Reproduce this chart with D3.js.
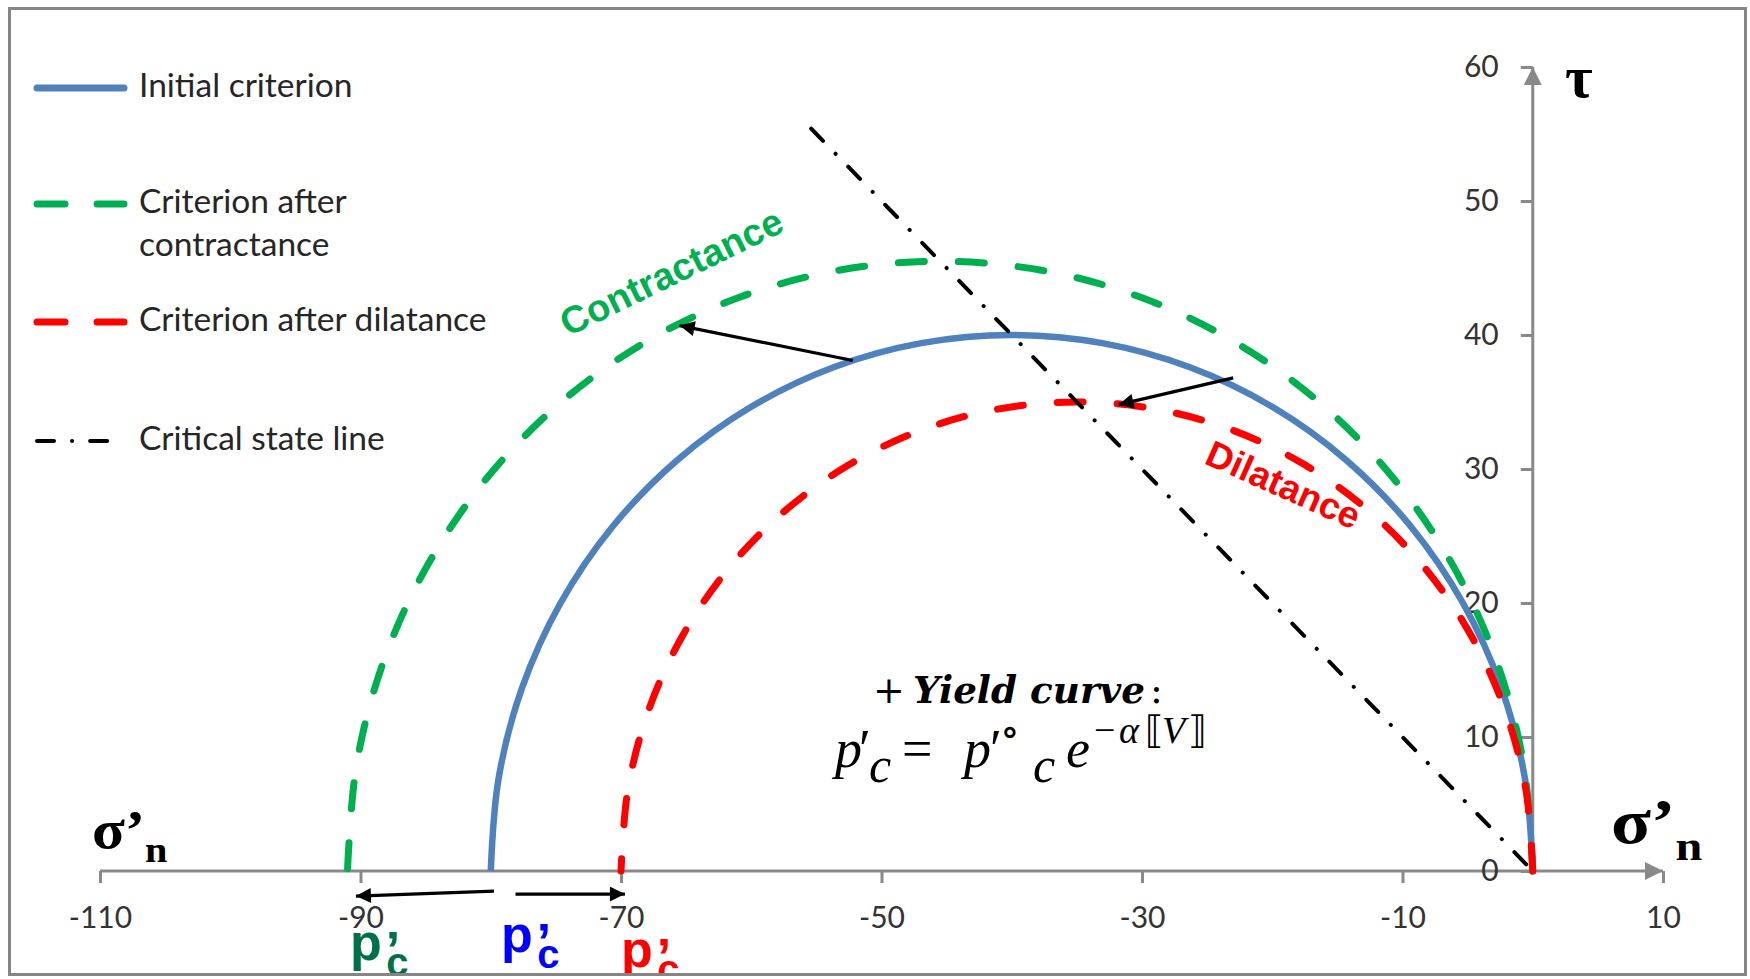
<!DOCTYPE html>
<html><head><meta charset="utf-8">
<script src="https://cdn.jsdelivr.net/npm/d3@7"></script>
<style>html,body{margin:0;padding:0;background:#fff;}svg{display:block;}</style>
</head><body>
<svg id="chart" width="1750" height="979"></svg>
<script>
// Axis ticks
const xTicks = [-110, -90, -70, -50, -30, -10, 10];
const yTicks = [0, 10, 20, 30, 40, 50, 60];

// Initial criterion (p'c = -80): points along the yield curve (σ'n, τ)
const initialSigma = [0, -0.61, -2.41, -5.36, -9.36, -14.29, -20.00, -26.32, -33.05, -40.00, -46.95, -53.68, -60.00, -65.71, -70.64, -74.64, -77.59, -79.39, -80.00];
const initialTau   = [0, 6.95, 13.68, 20.00, 25.71, 30.64, 34.64, 37.59, 39.39, 40.00, 39.39, 37.59, 34.64, 30.64, 25.71, 20.00, 13.68, 6.95, 0];

// Criterion after contractance (p'c = -91)
const contractSigma = [0, -0.69, -2.74, -6.10, -10.65, -16.25, -22.75, -29.94, -37.60, -45.50, -53.40, -61.06, -68.25, -74.75, -80.36, -84.90, -88.26, -90.31, -91.00];
const contractTau   = [0, 7.90, 15.56, 22.75, 29.25, 34.86, 39.40, 42.76, 44.81, 45.50, 44.81, 42.76, 39.40, 34.86, 29.25, 22.75, 15.56, 7.90, 0];

// Criterion after dilatance (p'c = -70)
const dilatSigma = [0, -0.53, -2.11, -4.69, -8.19, -12.50, -17.50, -23.03, -28.92, -35.00, -41.08, -46.97, -52.50, -57.50, -61.81, -65.31, -67.89, -69.47, -70.00];
const dilatTau   = [0, 6.08, 11.97, 17.50, 22.50, 26.81, 30.31, 32.89, 34.47, 35.00, 34.47, 32.89, 30.31, 26.81, 22.50, 17.50, 11.97, 6.08, 0];

// Critical state line (drawn from its upper end down to the origin)
const cslSigma = [-55.4, 0];
const cslTau   = [55.4, 0];

// Annotation arrows: [σ, τ] of start and tip
const arrowFrom = [[-52.2, 38.1], [-23.0, 36.8], [-79.75, -1.5], [-78.1, -1.72]];
const arrowTo   = [[-65.5, 40.7], [-31.8, 34.8], [-90.35, -1.87], [-69.7, -1.72]];

// Legend
const legendLabels = [["Initial criterion"], ["Criterion after", "contractance"], ["Criterion after dilatance"], ["Critical state line"]];

const W = 1750, H = 979;
const svg = d3.select("#chart");
const x = d3.scaleLinear().domain([-110, 10]).range([100, 1663]);
const y = d3.scaleLinear().domain([0, 60]).range([871, 67]);

const axisColor = "#898989";
const cBlue = "#4f81bd", cGreen = "#00b050", cRed = "#ff0000";

const defs = svg.append("defs");
defs.append("clipPath").attr("id", "frame").append("rect")
  .attr("x", 10).attr("y", 10).attr("width", 1735).attr("height", 964);
defs.append("marker").attr("id", "head").attr("viewBox", "0 0 10 10")
  .attr("refX", 10).attr("refY", 5).attr("markerUnits", "userSpaceOnUse")
  .attr("markerWidth", 20).attr("markerHeight", 15).attr("orient", "auto")
  .append("path").attr("d", "M0,0L10,5L0,10z").attr("fill", "#000");
defs.append("marker").attr("id", "axhead").attr("viewBox", "0 0 10 10")
  .attr("refX", 10).attr("refY", 5).attr("markerUnits", "userSpaceOnUse")
  .attr("markerWidth", 20).attr("markerHeight", 18).attr("orient", "auto")
  .append("path").attr("d", "M0,0L10,5L0,10z").attr("fill", axisColor);

svg.append("rect").attr("width", W).attr("height", H).attr("fill", "#fff");
const g = svg.append("g").attr("clip-path", "url(#frame)");

// Axes
const tickFont = "Lato, 'Open Sans', sans-serif";
const xAxis = d3.axisBottom(x).tickValues(xTicks).tickFormat(d => String(d))
  .tickSize(12).tickSizeOuter(0).tickPadding(24);
const gx = g.append("g").attr("transform", `translate(0,${y(0)})`).call(xAxis);
gx.select(".domain").remove();
gx.append("line").attr("x1", x(-110)).attr("x2", x(10)).attr("y1", 0).attr("y2", 0)
  .attr("stroke", axisColor).attr("stroke-width", 3).attr("marker-end", "url(#axhead)");

const yAxis = d3.axisLeft(y).tickValues(yTicks).tickFormat(d => String(d))
  .tickSize(12).tickSizeOuter(0).tickPadding(22);
const gy = g.append("g").attr("transform", `translate(${x(0)},0)`).call(yAxis);
gy.select(".domain").remove();
gy.append("line").attr("x1", 0).attr("x2", 0).attr("y1", y(0)).attr("y2", y(60))
  .attr("stroke", axisColor).attr("stroke-width", 3).attr("marker-end", "url(#axhead)");

[gx, gy].forEach(a => {
  a.selectAll(".tick line").attr("stroke", axisColor).attr("stroke-width", 3);
  a.selectAll(".tick text").attr("fill", "#333").style("font-family", tickFont).style("font-size", "30px");
});

// Curves
const line = d3.line().x(d => x(d[0])).y(d => y(d[1])).curve(d3.curveCatmullRom.alpha(0.5));
const zip = (a, b) => a.map((v, i) => [v, b[i]]);

g.append("path").datum(zip(initialSigma, initialTau)).attr("d", line)
  .attr("fill", "none").attr("stroke", cBlue).attr("stroke-width", 6.5);
g.append("path").datum(zip(contractSigma, contractTau)).attr("d", line)
  .attr("fill", "none").attr("stroke", cGreen).attr("stroke-width", 7)
  .attr("stroke-linecap", "round").attr("stroke-dasharray", "26 34");
g.append("path").datum(zip(dilatSigma, dilatTau)).attr("d", line)
  .attr("fill", "none").attr("stroke", cRed).attr("stroke-width", 7)
  .attr("stroke-linecap", "round").attr("stroke-dasharray", "26 34");
g.append("path").datum(zip(cslSigma, cslTau)).attr("d", d3.line().x(d => x(d[0])).y(d => y(d[1])))
  .attr("fill", "none").attr("stroke", "#000").attr("stroke-width", 4)
  .attr("stroke-linecap", "round").attr("stroke-dasharray", "17 18 0.1 18");

// Arrows
arrowFrom.forEach((f, i) => {
  const t = arrowTo[i];
  g.append("line").attr("x1", x(f[0])).attr("y1", y(f[1])).attr("x2", x(t[0])).attr("y2", y(t[1]))
    .attr("stroke", "#000").attr("stroke-width", 3.2).attr("marker-end", "url(#head)");
});

// Legend
const legFont = "Lato, 'Open Sans', sans-serif";
const legY = [88, 204, 322, 441];
const legSamples = [
  {stroke: cBlue, dash: null},
  {stroke: cGreen, dash: "28 32"},
  {stroke: cRed, dash: "28 32"},
  {stroke: "#000", dash: "17 18 0.1 18"}
];
legendLabels.forEach((lines, i) => {
  const s = legSamples[i];
  const ly = legY[i];
  const ln = g.append("line").attr("x1", 37).attr("x2", 124).attr("y1", ly).attr("y2", ly)
    .attr("stroke", s.stroke).attr("stroke-linecap", "round")
    .attr("stroke-width", i === 3 ? 4 : 7);
  if (s.dash) ln.attr("stroke-dasharray", s.dash);
  const t = g.append("text").attr("x", 139).attr("y", ly + 9)
    .style("font-family", legFont).style("font-size", "33.5px").attr("fill", "#262626");
  lines.forEach((l, k) => t.append("tspan").attr("x", 139).attr("dy", k === 0 ? 0 : 43).text(l));
});

// Axis titles
const serif = "'Liberation Serif', 'DejaVu Serif', serif";
g.append("text").attr("x", 1565).attr("y", 97).style("font-family", serif)
  .style("font-weight", "bold").style("font-size", "60px").attr("fill", "#000").text("τ");
function sigmaN(x0, base, fs, sx) {
  const t = g.append("text").attr("transform", `translate(${x0},${base}) scale(${sx},1)`)
    .style("font-family", serif).style("font-weight", "bold").attr("fill", "#000");
  t.append("tspan").style("font-size", fs + "px").text("σ’");
  t.append("tspan").style("font-size", Math.round(fs * 0.66) + "px").attr("dy", fs * 0.26).text("n");
}
sigmaN(92, 848, 54, 1.12);
sigmaN(1611, 843, 64, 1.15);

// In-plot annotations
const boldSans = "'Liberation Sans', Arial, sans-serif";
g.append("text").attr("transform", `translate(568,337) rotate(-26)`)
  .style("font-family", boldSans).style("font-weight", "bold").style("font-size", "38px")
  .attr("fill", cGreen).text("Contractance");
g.append("text").attr("transform", `translate(1203,463) rotate(24)`)
  .style("font-family", boldSans).style("font-weight", "bold").style("font-size", "37px")
  .attr("fill", cRed).text("Dilatance");

// p'c labels under the axis
function pc(x0, base, color) {
  const t = g.append("text").attr("x", x0).attr("y", base).attr("fill", color)
    .style("font-family", boldSans).style("font-weight", "bold").style("font-size", "52px");
  t.append("tspan").text("p");
  t.append("tspan").attr("dx", 4).attr("dy", 8).text("’");
  t.append("tspan").attr("dx", -14).attr("dy", 8).style("font-size", "40px").text("c");
}
pc(350, 960, "#007048");
pc(501, 952, "#0000ff");
pc(621, 967, "#ff0000");

// Yield curve formula
const math = "'Liberation Serif', 'DejaVu Serif', 'DejaVu Sans', serif";
const f1 = g.append("text").attr("y", 703).attr("fill", "#000").style("font-family", "'DejaVu Serif', serif").style("font-size", "38px");
f1.append("tspan").attr("x", 873).text("+");
f1.append("tspan").attr("x", 913).style("font-weight", "bold").style("font-style", "italic")
  .attr("textLength", 232).attr("lengthAdjust", "spacingAndGlyphs").text("Yield curve");
f1.append("tspan").attr("x", 1150).text(":");

const pieces = [
  {t: "p", x: 835, y: 767, s: 54, it: true},
  {t: "′", x: 859, y: 767, s: 54, it: false},
  {t: "c", x: 869, y: 782, s: 50, it: true},
  {t: "=", x: 902, y: 767, s: 54, it: false},
  {t: "p", x: 964, y: 767, s: 54, it: true},
  {t: "′", x: 990, y: 767, s: 54, it: false},
  {t: "∘", x: 1000, y: 745, s: 40, it: false},
  {t: "c", x: 1033, y: 782, s: 50, it: true},
  {t: "e", x: 1066, y: 767, s: 54, it: true},
  {t: "−", x: 1094, y: 743, s: 38, it: false},
  {t: "α", x: 1119, y: 743, s: 38, it: true},
  {t: "⟦", x: 1145, y: 743, s: 38, it: false},
  {t: "V", x: 1162, y: 743, s: 38, it: true},
  {t: "⟧", x: 1188, y: 743, s: 38, it: false}
];
pieces.forEach(p => {
  g.append("text").attr("x", p.x).attr("y", p.y).style("font-family", math)
    .style("font-size", p.s + "px").style("font-style", p.it ? "italic" : "normal")
    .attr("fill", "#000").text(p.t);
});

// Chart frame
svg.append("rect").attr("x", 9.5).attr("y", 8.5).attr("width", 1736).attr("height", 966)
  .attr("fill", "none").attr("stroke", "#868686").attr("stroke-width", 3);
</script>
</body></html>
